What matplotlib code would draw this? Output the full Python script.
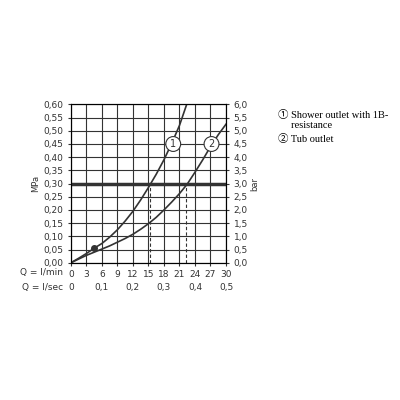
import matplotlib
matplotlib.use("Agg")
import matplotlib.pyplot as plt
import numpy as np

q1 = [0, 1.5, 3, 4.5, 6, 7.5, 9, 10.5, 12, 13.5, 15, 16.5, 18, 19.5, 21, 22.4]
p1 = [0, 0.017, 0.035, 0.055, 0.073, 0.097, 0.125, 0.158, 0.195, 0.238, 0.285, 0.335, 0.39, 0.452, 0.52, 0.6]
q2 = [0, 1.5, 3, 4.5, 6, 7.5, 9, 10.5, 12, 13.5, 15, 16.5, 18, 19.5, 21, 22.5, 24, 25.5, 27, 28.5, 30]
p2 = [0, 0.014, 0.028, 0.04, 0.052, 0.064, 0.078, 0.092, 0.108, 0.127, 0.148, 0.172, 0.2, 0.23, 0.262, 0.298, 0.343, 0.39, 0.44, 0.485, 0.525]
lmin_ticks = [0, 3, 6, 9, 12, 15, 18, 21, 24, 27, 30]
lsec_ticks = [0, 0.1, 0.2, 0.3, 0.4, 0.5]
mpa_ticks = np.round(np.arange(0, 0.601, 0.05), 2)
dash_q = [15.3, 22.3]
point = (4.5, 0.055)
labels = ["① Shower outlet with 1B-\n     resistance", "② Tub outlet"]

fig = plt.figure(figsize=(4, 4), dpi=100)
ax = fig.add_axes([0.177, 0.343, 0.388, 0.396])
c = "#333333"
ax.set_xlim(0, 30); ax.set_ylim(0, 0.6)
ax.set_xticks(lmin_ticks); ax.set_yticks(mpa_ticks)
ax.grid(True, color=c, lw=0.8)
for s in ax.spines.values(): s.set_color(c)
ax.tick_params(length=2, colors=c, labelsize=6.5)
fmt = lambda v: f"{v:.2f}".replace(".", ",")
ax.set_yticklabels([fmt(v) for v in mpa_ticks])
ax.set_xticklabels([str(v) for v in lmin_ticks])
ax.set_ylabel("MPa", fontsize=6, color=c, labelpad=2)
ax2 = ax.twinx(); ax2.set_ylim(0, 6); ax2.set_yticks(mpa_ticks * 10)
ax2.set_yticklabels([f"{v*10:.1f}".replace(".", ",") for v in mpa_ticks])
ax2.tick_params(length=2, colors=c, labelsize=6.5)
ax2.set_ylabel("bar", fontsize=6, color=c, labelpad=2)
ax.plot(q1, p1, color=c, lw=1.2)
ax.plot(q2, p2, color=c, lw=1.2)
ax.axhline(0.3, color=c, lw=2.5)
for d in dash_q:
    ax.plot([d, d], [0, 0.3], color=c, lw=0.8, ls=(0, (3, 2)))
ax.plot(*point, "o", color=c, ms=4)
for x, y, t in [(19.8, 0.45, "1"), (27.2, 0.45, "2")]:
    ax.text(x, y, t, ha="center", va="center", fontsize=7, color=c,
            bbox=dict(boxstyle="circle,pad=0.25", fc="white", ec=c, lw=0.8))
for v in lsec_ticks:
    ax.text(v * 60, -0.095, f"{v:g}".replace(".", ","), ha="center", va="center", fontsize=6.5, color=c)
ax.text(-1.5, -0.035, "Q = l/min", ha="right", va="center", fontsize=6.5, color=c)
ax.text(-1.5, -0.095, "Q = l/sec", ha="right", va="center", fontsize=6.5, color=c)
fam = ["Liberation Serif", "Noto Sans CJK SC"]
fig.text(0.695, 0.725, labels[0], fontsize=7.5, family=fam, va="top")
fig.text(0.695, 0.665, labels[1], fontsize=7.5, family=fam, va="top")
fig.savefig("out.png")
